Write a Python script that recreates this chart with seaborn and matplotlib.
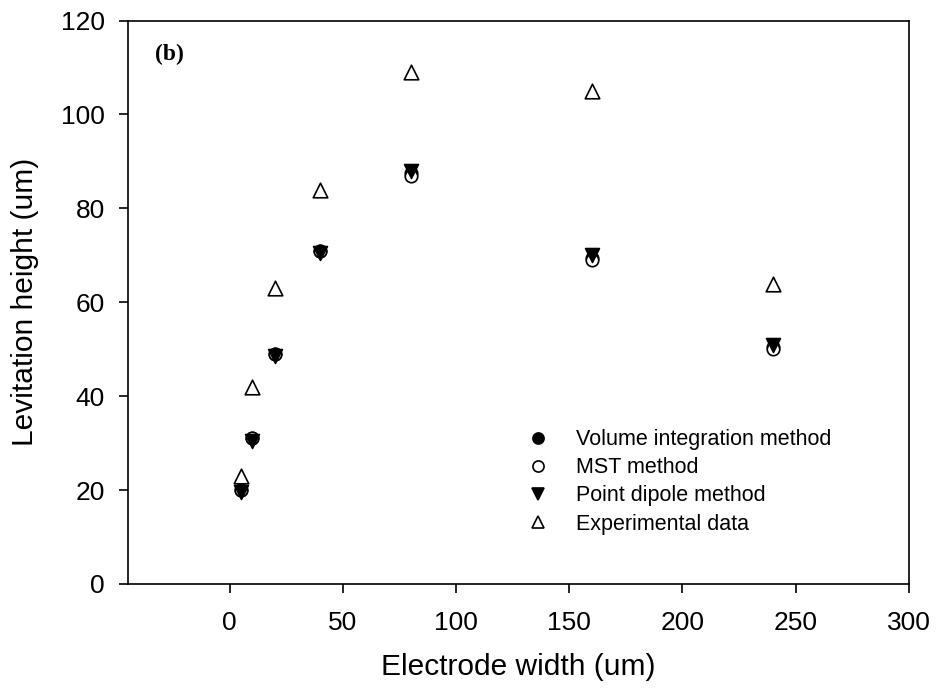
import matplotlib
matplotlib.use("Agg")
import matplotlib.pyplot as plt
import seaborn as sns
import pandas as pd
from matplotlib.lines import Line2D

# Data
width = [5, 10, 20, 40, 80, 160, 240]
volume_integration = [20.0, 31.0, 49.0, 71.0, 87.5, 69.5, 50.5]
mst_method = [20.0, 31.0, 49.0, 71.0, 87.0, 69.0, 50.0]
point_dipole = [19.5, 30.5, 48.5, 70.5, 88.0, 70.0, 51.0]
experimental = [23.0, 42.0, 63.0, 84.0, 109.0, 105.0, 64.0]

labels = ["Volume integration method", "MST method", "Point dipole method", "Experimental data"]

sns.set_theme(style="white")
plt.rcParams['font.family'] = ['Liberation Sans', 'DejaVu Sans']
plt.rcParams['text.color'] = 'black'
plt.rcParams['axes.labelcolor'] = 'black'
plt.rcParams['xtick.color'] = 'black'
plt.rcParams['ytick.color'] = 'black'

fig = plt.figure(figsize=(9.37, 6.93), dpi=100)
ax = fig.add_axes([0.1363, 0.1573, 0.8337, 0.8130])

series = [
    (volume_integration, "o", "black", "black", 80),
    (mst_method, "o", "white", "black", 80),
    (point_dipole, "v", "black", "black", 100),
    (experimental, "^", "white", "black", 110),
]
handles = []
for (vals, mk, fc, ec, s), lab in zip(series, labels):
    df = pd.DataFrame({"x": width, "y": vals})
    sns.scatterplot(data=df, x="x", y="y", marker=mk, s=s, color=fc,
                    edgecolor=ec, linewidth=1.2, ax=ax, legend=False, zorder=3)
    handles.append(Line2D([], [], linestyle="none", marker=mk,
                          markerfacecolor=fc, markeredgecolor=ec,
                          markeredgewidth=1.2, markersize=8, label=lab))

ax.set_xlim(-45, 300)
ax.set_ylim(0, 120)
ax.set_xticks([0, 50, 100, 150, 200, 250, 300])
ax.set_yticks([0, 20, 40, 60, 80, 100, 120])
ax.tick_params(axis="both", which="major", direction="out", length=6.5,
               width=1.2, labelsize=19, bottom=True, left=True,
               top=False, right=False)
ax.tick_params(axis="x", pad=13)
ax.tick_params(axis="y", pad=10)
for sp in ax.spines.values():
    sp.set_color("black")
    sp.set_linewidth(1.2)

ax.set_xlabel("Electrode width (um)", fontsize=21.5, labelpad=13)
ax.set_ylabel("Levitation height (um)", fontsize=21.5, labelpad=16)

ax.text(0.035, 0.958, "(b)", transform=ax.transAxes, fontsize=17,
        fontweight="bold", family=["Liberation Serif", "DejaVu Serif"],
        ha="left", va="top")

leg = ax.legend(handles=handles, loc="upper left",
                bbox_to_anchor=(0.5, 0.29), frameon=False, fontsize=15.5,
                handletextpad=1.3, labelspacing=0.33, handlelength=1.0,
                borderaxespad=0)

fig.savefig("out.png", dpi=100)
